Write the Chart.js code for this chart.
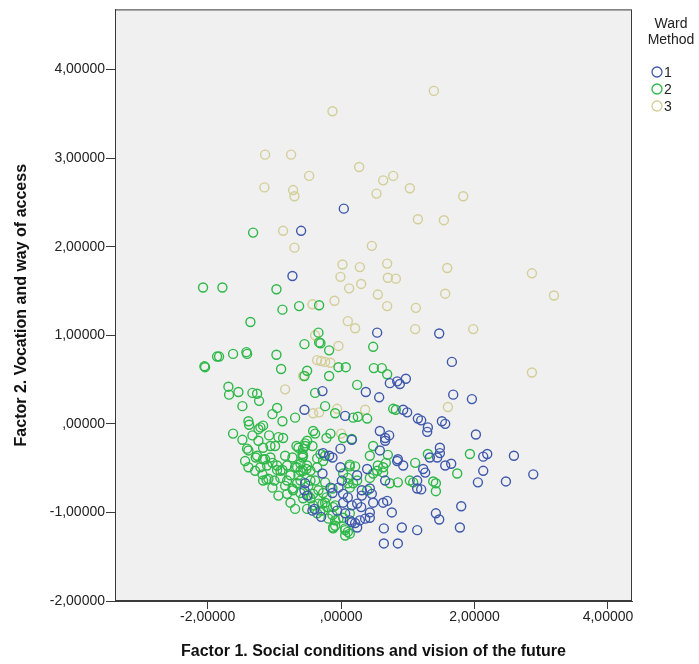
<!DOCTYPE html>
<html>
<head>
<meta charset="utf-8">
<script src="https://cdn.jsdelivr.net/npm/chart.js@4"></script>
<style>
  body { margin: 0; background: #ffffff; }
  canvas { display: block; }
</style>
</head>
<body>
<canvas id="ward-chart" width="699" height="664"></canvas>
<script>
const xTicks = [-2, 0, 2, 4];
const yTicks = [-2, -1, 0, 1, 2, 3, 4];
const wardLabels = ["1", "2", "3"];
const wardColors = ["#3E58AC", "#2EB848", "#D3CE97"];

// Ward Method cluster 1
const ward1Points = [
  [0.04, 2.43], [-0.60, 2.18], [-0.73, 1.67], [0.54, 1.03], [1.47, 1.02],
  [1.66, 0.70], [0.73, 0.46], [0.84, 0.48], [0.88, 0.45], [0.97, 0.51],
  [0.37, 0.36], [0.57, 0.30], [-0.28, 0.37], [-0.55, 0.16], [0.06, 0.09],
  [0.93, 0.16], [0.99, 0.13], [1.15, 0.06], [1.68, 0.33], [1.96, 0.28],
  [1.20, 0.04], [1.30, -0.04], [1.29, -0.09], [1.51, 0.03], [1.56, 0.00],
  [2.02, -0.12], [0.58, -0.08], [0.66, -0.16], [0.72, -0.13], [-0.27, -0.33],
  [-0.18, -0.36], [-0.01, -0.28], [1.48, -0.27], [1.48, -0.33], [1.33, -0.38],
  [1.44, -0.38], [2.13, -0.37], [2.19, -0.34], [2.59, -0.36], [1.23, -0.51],
  [1.26, -0.55], [1.56, -0.47], [1.65, -0.45], [2.13, -0.53], [2.88, -0.57],
  [0.85, -0.40], [0.93, -0.47], [-0.28, -0.56], [-0.01, -0.49], [0.24, -0.58],
  [0.39, -0.51], [0.66, -0.64], [1.14, -0.64], [1.14, -0.73], [1.20, -0.74],
  [2.05, -0.66], [2.47, -0.65], [-0.16, -0.72], [-0.13, -0.78], [0.31, -0.75],
  [0.43, -0.73], [0.31, -0.81], [0.46, -0.79], [0.48, -0.89], [0.63, -0.89],
  [0.69, -0.87], [0.76, -1.00], [0.43, -1.00], [0.30, -0.94], [0.03, -0.89],
  [0.16, -0.92], [0.06, -1.01], [0.13, -1.09], [0.21, -1.12], [0.28, -1.09],
  [0.36, -1.07], [0.43, -1.06], [0.24, -1.17], [0.64, -1.18], [0.91, -1.17],
  [1.14, -1.20], [0.64, -1.35], [0.85, -1.35], [1.80, -0.93], [1.42, -1.01],
  [1.47, -1.08], [1.78, -1.17], [-0.55, -0.75], [-0.51, -0.81], [-0.13, -0.38],
  [0.01, -0.64], [-0.04, -0.72], [0.03, -0.79], [0.10, -0.83], [0.24, -0.90],
  [0.16, -1.11], [0.66, -0.19], [0.58, -0.30], [0.84, -0.42], [0.16, -0.18],
  [-0.54, -0.67], [-0.40, -0.96], [-0.43, -0.98], [-0.30, -1.05], [-0.06, -0.98],
];

// Ward Method cluster 2
const ward2Points = [
  [-1.32, 2.16], [-2.07, 1.54], [-1.78, 1.54], [-0.97, 1.52], [-0.88, 1.29],
  [-0.63, 1.33], [-0.33, 1.34], [-1.36, 1.15], [-0.34, 1.03], [-2.05, 0.65],
  [-2.04, 0.64], [-1.86, 0.76], [-1.83, 0.76], [-1.62, 0.79], [-1.42, 0.81],
  [-1.41, 0.79], [-0.97, 0.78], [-0.90, 0.62], [-0.55, 0.90], [-0.31, 0.91],
  [-0.18, 0.83], [0.48, 0.87], [-0.04, 0.64], [0.07, 0.64], [-0.51, 0.60],
  [-0.55, 0.54], [-0.18, 0.54], [0.49, 0.63], [0.61, 0.63], [0.69, 0.56],
  [0.24, 0.44], [-0.39, 0.35], [-1.69, 0.42], [-1.68, 0.33], [-1.54, 0.36],
  [-1.33, 0.35], [-1.26, 0.34], [-1.23, 0.26], [-1.48, 0.20], [-0.96, 0.18],
  [-1.03, 0.11], [-0.88, 0.03], [-0.69, 0.07], [-1.39, 0.03], [-1.38, -0.01],
  [-1.21, -0.04], [-1.17, -0.02], [-1.24, -0.06], [-1.62, -0.11], [-1.48, -0.18],
  [-1.33, -0.13], [-1.08, -0.13], [-0.94, -0.15], [-0.87, -0.16], [-1.41, -0.28],
  [-1.17, -0.27], [-0.99, -0.25], [-0.24, 0.20], [-0.09, 0.12], [0.18, 0.07],
  [0.25, 0.08], [0.39, 0.06], [0.78, 0.17], [0.82, 0.16], [-0.42, -0.08],
  [-0.16, -0.11], [-0.22, -0.16], [0.03, -0.16], [0.16, -0.17], [-0.64, -0.27],
  [-0.54, -0.25], [-0.58, -0.34], [-0.73, -0.38], [0.48, -0.25], [0.43, -0.36],
  [-0.69, -0.49], [-0.51, -0.47], [-0.36, -0.39], [0.13, -0.48], [0.21, -0.48],
  [0.03, -0.56], [0.55, -0.47], [0.63, -0.55], [0.48, -0.56], [0.73, -0.67],
  [0.85, -0.66], [1.03, -0.64], [0.10, -0.67], [-0.12, -0.94], [-0.24, -0.89],
  [-0.27, -0.98], [-0.04, -1.07], [-0.12, -1.17], [0.06, -1.20], [0.13, -1.24],
  [1.30, -0.34], [1.93, -0.34], [1.11, -0.44], [1.74, -0.56], [1.08, -0.66],
  [1.38, -0.65], [1.42, -0.67], [1.42, -0.76], [-1.39, -0.30], [-1.26, -0.36],
  [-1.06, -0.38], [-1.28, -0.38], [-1.17, -0.40], [-1.39, -0.49], [-1.21, -0.49],
  [-1.11, -0.47], [-0.96, -0.47], [-0.81, -0.47], [-0.84, -0.36], [-1.17, -0.64],
  [-1.12, -0.63], [-1.00, -0.64], [-1.03, -0.72], [-0.91, -0.61], [-0.81, -0.64],
  [-0.94, -0.81], [-0.81, -0.79], [-0.72, -0.75], [-0.66, -0.67], [-0.64, -0.58],
  [-0.61, -0.45], [-0.58, -0.38], [-0.57, -0.28], [-0.54, -0.22], [-0.51, -0.19],
  [-0.39, -0.11], [-0.76, -0.89], [-0.69, -0.96], [-0.57, -0.84], [-0.49, -0.81],
  [-0.42, -0.79], [-0.34, -0.75], [-0.51, -0.96], [-0.42, -0.92], [-0.36, -1.01],
  [-0.28, -0.90], [-0.21, -0.94], [-0.13, -1.03], [-0.09, -1.09], [-0.27, -0.78],
  [-0.13, -0.73], [-0.24, -0.66], [-0.57, -0.53], [-0.52, -0.51], [-0.66, -0.49],
  [-0.36, -0.49], [-0.27, -0.42], [-0.31, -0.34], [0.13, -0.46], [0.10, -0.61],
  [0.13, -0.72], [0.18, -0.67], [0.24, -0.64], [0.39, -0.75], [0.43, -0.61],
  [0.54, -0.53], [0.63, -0.49], [0.67, -0.44], [0.13, -1.01], [0.03, -1.06],
  [0.06, -1.18], [0.10, -1.22], [-0.12, -1.18], [0.70, -0.35], [-1.14, -0.40],
  [-1.03, -0.44], [-0.96, -0.52], [-0.88, -0.52], [-0.33, 0.92], [-0.46, -0.64],
  [-1.29, -0.53], [-1.18, -0.57], [-1.09, -0.62], [-0.84, -0.70], [-0.73, -0.73],
  [-0.61, -0.78], [-0.46, -0.84], [-0.34, -0.90], [-0.61, -0.64], [-0.49, -0.70],
  [-0.39, -0.64], [-0.76, -0.58], [-0.91, -0.53], [-0.61, -0.53], [-0.46, -0.53],
  [-0.31, -0.98], [-0.19, -1.07], [-0.22, -0.83], [-0.09, -0.92], [-1.06, -0.25],
  [-1.24, -0.19], [-1.44, -0.42], [-0.57, -0.36], [-0.67, -0.25], [-0.43, -0.25],
  [-0.24, -0.36], [-0.09, -1.15], [0.06, -1.26],
];

// Ward Method cluster 3
const ward3Points = [
  [-0.13, 3.53], [1.39, 3.76], [-1.14, 3.04], [-0.75, 3.04], [0.27, 2.90],
  [-0.48, 2.80], [0.63, 2.75], [0.78, 2.80], [-1.15, 2.67], [-0.72, 2.64],
  [-0.70, 2.57], [0.53, 2.60], [1.03, 2.66], [1.83, 2.57], [1.15, 2.31],
  [1.54, 2.30], [-0.87, 2.18], [-0.70, 1.99], [0.46, 2.01], [0.02, 1.80],
  [0.28, 1.77], [0.69, 1.81], [1.59, 1.76], [-0.01, 1.66], [0.70, 1.65],
  [0.82, 1.64], [2.86, 1.70], [0.30, 1.58], [0.12, 1.53], [0.55, 1.46],
  [1.56, 1.47], [3.19, 1.45], [-0.10, 1.39], [-0.43, 1.35], [0.69, 1.33],
  [1.12, 1.31], [0.10, 1.16], [0.21, 1.08], [1.11, 1.07], [1.98, 1.07],
  [2.86, 0.58], [1.60, 0.19], [-0.84, 0.39], [-0.36, 0.72], [-0.24, 0.70],
  [-0.16, 0.69], [-0.04, 0.88], [-0.39, 1.00], [-0.57, 0.54], [-0.33, 0.13],
  [0.36, 0.16], [0.00, -0.11], [-0.42, 0.12], [-0.06, 0.17], [-0.30, 0.71],
];

const wardPoints = [ward1Points, ward2Points, ward3Points];

const formatTick = (value) => {
  let text = value.toFixed(5).replace(".", ",");
  if (value === 0) text = text.slice(1);
  return text;
};

const plotFrame = {
  id: "plotFrame",
  beforeDraw(chart) {
    const { ctx, chartArea } = chart;
    ctx.save();
    ctx.fillStyle = "#f0f0f0";
    ctx.fillRect(chartArea.left, chartArea.top, chartArea.width, chartArea.height);
    ctx.restore();
  },
  afterDraw(chart) {
    const { ctx, chartArea } = chart;
    ctx.save();
    ctx.strokeStyle = "#3a3a3a";
    ctx.lineWidth = 1;
    ctx.strokeRect(chartArea.left + 0.5, chartArea.top + 0.5, chartArea.width - 1, chartArea.height - 1);
    ctx.restore();
  },
};

const wardLegend = {
  id: "wardLegend",
  afterDraw(chart) {
    const { ctx } = chart;
    ctx.save();
    ctx.fillStyle = "#222";
    ctx.font = "14px 'Liberation Sans', Arial, sans-serif";
    ctx.textAlign = "center";
    ctx.textBaseline = "middle";
    ctx.fillText("Ward", 671, 24);
    ctx.fillText("Method", 671, 40);
    ctx.textAlign = "left";
    chart.data.datasets.forEach((dataset, index) => {
      const y = 72 + index * 17;
      ctx.beginPath();
      ctx.arc(657, y, 5, 0, Math.PI * 2);
      ctx.strokeStyle = dataset.borderColor;
      ctx.lineWidth = 1.3;
      ctx.stroke();
      ctx.fillStyle = "#222";
      ctx.fillText(dataset.label, 664, y + 1);
    });
    ctx.restore();
  },
};

const tickFont = { family: "'Liberation Sans', Arial, sans-serif", size: 14 };
const titleFont = { family: "'Liberation Sans', Arial, sans-serif", size: 16, weight: "bold" };

const wardChart = new Chart(document.getElementById("ward-chart"), {
  type: "scatter",
  data: {
    datasets: wardPoints.map((points, index) => ({
      label: wardLabels[index],
      data: points.map(([x, y]) => ({ x, y })),
      borderColor: wardColors[index],
      backgroundColor: "rgba(0,0,0,0)",
      borderWidth: 1.4,
      pointRadius: 4.5,
      pointStyle: "circle",
    })),
  },
  options: {
    responsive: false,
    animation: false,
    layout: { padding: { top: 8, right: 67, bottom: 0, left: 0 } },
    plugins: {
      legend: { display: false },
      tooltip: { enabled: false },
    },
    scales: {
      x: {
        type: "linear",
        min: -3.39,
        max: 4.36,
        afterBuildTicks: (scale) => {
          scale.ticks = xTicks.map((value) => ({ value }));
        },
        afterFit: (scale) => {
          scale.height = 63;
        },
        grid: { drawOnChartArea: false, drawTicks: true, tickLength: 8, color: "#3a3a3a" },
        border: { display: true, color: "#3a3a3a" },
        ticks: {
          font: tickFont,
          color: "#222",
          padding: 0,
          maxRotation: 0,
          callback: (value) => formatTick(value),
        },
        title: {
          display: true,
          text: "Factor 1. Social conditions and vision of the future",
          font: titleFont,
          color: "#111",
          padding: { top: 0, bottom: 3 },
        },
      },
      y: {
        type: "linear",
        min: -2,
        max: 4.68,
        afterBuildTicks: (scale) => {
          scale.ticks = yTicks.map((value) => ({ value }));
        },
        afterFit: (scale) => {
          scale.width = 115;
        },
        grid: { drawOnChartArea: false, drawTicks: true, tickLength: 9, color: "#3a3a3a" },
        border: { display: true, color: "#3a3a3a" },
        ticks: {
          font: tickFont,
          color: "#222",
          padding: 1,
          callback: (value) => formatTick(value),
        },
        title: {
          display: true,
          text: "Factor 2. Vocation and way of access",
          font: titleFont,
          color: "#111",
          padding: { top: 12, bottom: 0 },
        },
      },
    },
  },
  plugins: [plotFrame, wardLegend],
});
</script>
</body>
</html>
